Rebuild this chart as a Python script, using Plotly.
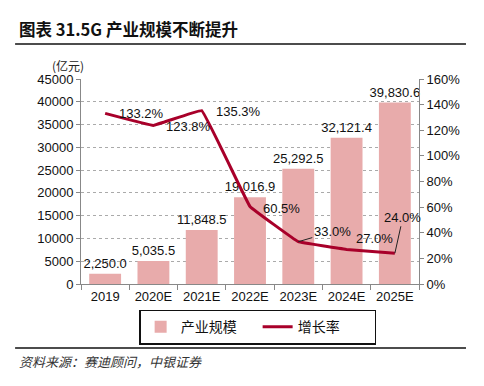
import plotly.graph_objects as go

categories = ["2019", "2020E", "2021E", "2022E", "2023E", "2024E", "2025E"]
scale_values = [2250.0, 5035.5, 11848.5, 19016.9, 25292.5, 32121.4, 39830.6]
growth_values = [133.2, 123.8, 135.3, 60.5, 33.0, 27.0, 24.0]
scale_labels = ["2,250.0", "5,035.5", "11,848.5", "19,016.9", "25,292.5", "32,121.4", "39,830.6"]
growth_labels = ["133.2%", "123.8%", "135.3%", "60.5%", "33.0%", "27.0%", "24.0%"]

BAR_COLOR = "#E8ABAB"
LINE_COLOR = "#A8002A"
FONT = "Liberation Sans, Arial, Noto Sans CJK SC, sans-serif"
CJK = "Noto Sans CJK SC, sans-serif"

fig = go.Figure()
fig.add_trace(go.Bar(
    x=categories, y=scale_values, name="产业规模",
    marker=dict(color=BAR_COLOR, line=dict(width=0)),
    text=scale_labels, textposition="outside", cliponaxis=False, constraintext="none",
    textfont=dict(size=13, color="#111", family=FONT),
))
fig.add_trace(go.Scatter(
    x=categories, y=growth_values, name="增长率", yaxis="y2",
    mode="lines", line=dict(color=LINE_COLOR, width=3, shape="spline", smoothing=0.15),
))

# growth labels offsets (pixels)
offsets = [(36, 0, False), (35, -1, False), (37, -1, False), (31, -2, False),
           (34, 10, True), (28, 11, False), (8, 36, True)]
annotations = []
for i, (v, lab, (dx, dy, arrow)) in enumerate(zip(growth_values, growth_labels, offsets)):
    if arrow:
        annotations.append(dict(x=i, y=v, xref="x", yref="y2", text=lab, showarrow=True,
                                arrowhead=0, arrowwidth=1, arrowcolor="#222",
                                ax=dx, ay=-dy, standoff=0,
                                font=dict(size=13, color="#111", family=FONT)))
    else:
        annotations.append(dict(x=i, y=v, xref="x", yref="y2", text=lab, showarrow=False,
                                xshift=dx, yshift=dy,
                                font=dict(size=13, color="#111", family=FONT)))

annotations += [
    dict(x=-0.19, y=1.245, xref="paper", yref="paper", xanchor="left", yanchor="middle",
         text="<b>图表 31.5G 产业规模不断提升</b>", showarrow=False,
         font=dict(size=16.5, color="#111", family=CJK)),
    dict(x=-0.038, y=1.065, xref="paper", yref="paper", xanchor="center", yanchor="middle",
         text="(亿元)", showarrow=False, font=dict(size=12, color="#222", family=CJK)),
    dict(x=-0.19, y=-0.38, xref="paper", yref="paper", xanchor="left", yanchor="middle",
         text="<i>资料来源：赛迪顾问，中银证券</i>", showarrow=False,
         font=dict(size=13, color="#333", family=CJK)),
]

shapes = [
    dict(type="line", xref="paper", yref="paper", x0=-0.195, x1=1.139, y0=1.171, y1=1.171,
         line=dict(color="#111", width=1.5)),
    dict(type="line", xref="paper", yref="paper", x0=-0.195, x1=1.139, y0=-0.312, y1=-0.312,
         line=dict(color="#111", width=1.5)),
]

# page body has an 8px margin: figure is sized/offset to compensate
fig.update_layout(
    width=476, height=378,
    margin=dict(l=73, r=65, t=71, b=102),
    paper_bgcolor="white", plot_bgcolor="white",
    font=dict(family=FONT, size=13, color="#111"),
    bargap=0.34,
    showlegend=True,
    legend=dict(orientation="h", x=0.172, y=-0.125, xanchor="left", yanchor="top",
                bordercolor="#111", borderwidth=1.5, font=dict(size=14, family=CJK),
                tracegroupgap=0, entrywidth=72),
    xaxis=dict(type="category", range=[-0.5, 6.5], showline=True, linecolor="#888", linewidth=1,
               ticks="outside", tickson="boundaries", ticklen=5, tickcolor="#888",
               tickfont=dict(size=13, family=FONT), showgrid=False, tickangle=0),
    yaxis=dict(range=[0, 45000], dtick=5000, showline=True, linecolor="#888", linewidth=1,
               ticks="outside", ticklen=4, tickcolor="#888", tickformat="d",
               showgrid=True, gridcolor="#aaa", griddash="dot", gridwidth=1,
               tickfont=dict(size=13, family=FONT), zeroline=False),
    yaxis2=dict(range=[0, 160], dtick=20, overlaying="y", side="right", showline=True,
                linecolor="#888", linewidth=1, ticks="outside", ticklen=4, tickcolor="#888",
                ticksuffix="%", showgrid=False, zeroline=False,
                tickfont=dict(size=13, family=FONT)),
    annotations=annotations,
    shapes=shapes,
)

fig.write_html("out.html")
